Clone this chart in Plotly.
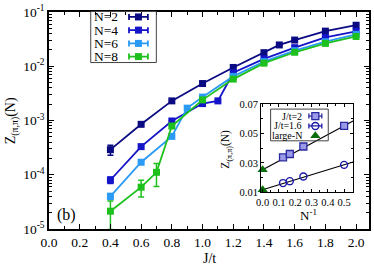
import numpy as np
import plotly.graph_objects as go

# ---------------- data ----------------
J_N2 = [0.4, 0.6, 0.8, 1.0, 1.2, 1.4, 1.5, 1.6, 1.8, 2.0]
Z_N2 = [2.9e-4, 8.5e-4, 2.3e-3, 4.8e-3, 9.5e-3, 0.0178, 0.0247, 0.0304, 0.0444, 0.057]
E_N2 = [6e-5, 0, 0, 0, 0, 0, 0, 0, 0, 0]

J_N4 = [0.4, 0.6, 0.8, 1.0, 1.1, 1.2, 1.4, 1.6, 1.8, 2.0]
Z_N4 = [8.0e-5, 3.3e-4, 9.8e-4, 2.05e-3, 2.3e-3, 7.6e-3, 0.0137, 0.022, 0.034, 0.044]
E_N4 = [1.1e-5, 0, 0, 0, 0, 0, 0, 0, 0, 0]

J_N6 = [0.4, 0.6, 0.8, 0.9, 1.0, 1.2, 1.4, 1.6, 1.8, 2.0]
Z_N6 = [4.0e-5, 1.7e-4, 5.1e-4, 1.69e-3, 2.7e-3, 6.5e-3, 0.0122, 0.0194, 0.0283, 0.0388]
E_N6 = [5e-6, 0, 0, 0, 0, 0, 0, 0, 0, 0]

J_N8 = [0.4, 0.6, 0.7, 0.8, 1.0, 1.2, 1.4, 1.6, 1.8, 2.0]
Z_N8 = [2.13e-5, 5.9e-5, 1.11e-4, 7.9e-4, 2.4e-3, 5.8e-3, 0.0114, 0.0181, 0.0264, 0.0354]
E_N8 = [1.15e-5, 2e-5, 5e-5, 0, 0, 0, 0, 0, 0, 0]

series_names = ["N=2", "N=4", "N=6", "N=8"]

x_tick_vals = [0.0, 0.2, 0.4, 0.6, 0.8, 1.0, 1.2, 1.4, 1.6, 1.8, 2.0]
x_tick_text = ["0.0", "0.2", "0.4", "0.6", "0.8", "1.0", "1.2", "1.4", "1.6", "1.8", "2.0"]
y_tick_exps = [-5, -4, -3, -2, -1]

# inset data
invN = [0.125, 0.1667, 0.25, 0.5]
Z_J2 = [0.0338, 0.0361, 0.0412, 0.0552]
Z_J16 = [0.0163, 0.0176, 0.0208, 0.0287]
largeN_x = [0.0, 0.0]
largeN_Z = [0.0253, 0.0118]
fit_J2 = (0.0253, 0.060)     # intercept, slope
fit_J16 = (0.0118, 0.034)
inset_x_ticks = [0.0, 0.1, 0.2, 0.3, 0.4, 0.5]
inset_x_text = ["0.0", "0.1", "0.2", "0.3", "0.4", "0.5"]
inset_y_ticks = [0.01, 0.03, 0.05, 0.07]
inset_y_text = ["0.01", "0.03", "0.05", "0.07"]
inset_names = ["J/t=2", "J/t=1.6", "large-N"]

# ---------------- styling ----------------
FONT = "Liberation Serif, Times New Roman, serif"
colors = ["#0a0a82", "#1414c8", "#2a9af5", "#1ec01e"]
W, H = 374, 271
ML, MR, MT, MB = 49, 3, 10, 42
PW, PH = W - ML - MR, H - MT - MB


def px_x(p):  # pixel -> paper x
    return (p - ML) / PW


def px_y(p):  # pixel -> paper y
    return (H - MB - p) / PH


fig = go.Figure()

for J, Z, E, c in zip([J_N2, J_N4, J_N6, J_N8], [Z_N2, Z_N4, Z_N6, Z_N8],
                      [E_N2, E_N4, E_N6, E_N8], colors):
    fig.add_trace(go.Scatter(
        x=J, y=Z, mode="lines+markers", xaxis="x", yaxis="y",
        line=dict(color=c, width=1.8),
        marker=dict(symbol="square", size=7, color=c),
        error_y=dict(type="data", array=E, visible=True, color=c, thickness=1.5, width=3),
        showlegend=False, hoverinfo="skip"))

# inset fits
xf = np.array([0.0, 0.555])
for (b, m) in [fit_J2, fit_J16]:
    fig.add_trace(go.Scatter(x=xf, y=b + m * xf, mode="lines", xaxis="x2", yaxis="y2",
                             line=dict(color="black", width=1.1), showlegend=False, hoverinfo="skip"))
fig.add_trace(go.Scatter(x=invN, y=Z_J2, mode="markers", xaxis="x2", yaxis="y2",
                         marker=dict(symbol="square", size=7, color="#9a9ae8",
                                     line=dict(color="#2a2aa0", width=1.3)),
                         showlegend=False, hoverinfo="skip"))
fig.add_trace(go.Scatter(x=invN, y=Z_J16, mode="markers", xaxis="x2", yaxis="y2",
                         marker=dict(symbol="circle-open", size=7, color="#1a1aa8",
                                     line=dict(width=1.4)),
                         showlegend=False, hoverinfo="skip"))
fig.add_trace(go.Scatter(x=largeN_x, y=largeN_Z, mode="markers", xaxis="x2", yaxis="y2",
                         marker=dict(symbol="triangle-up", size=9, color="#0a6e0a"),
                         showlegend=False, hoverinfo="skip", cliponaxis=False))

# ---------------- legend keys (overlay axes in plot fraction units) ----------------
leg_y_px = [15, 28.3, 41.7, 55]
for yp, c in zip(leg_y_px, colors):
    fig.add_trace(go.Scatter(x=[px_x(139)], y=[px_y(yp)], mode="markers", xaxis="x3", yaxis="y3",
                             marker=dict(symbol="square", size=7, color=c),
                             error_x=dict(type="constant", value=9.5 / PW, color=c, thickness=1.8, width=3),
                             showlegend=False, hoverinfo="skip"))
ins_y_px = [115, 125, 135]
ins_styles = [
    dict(symbol="square", size=7, color="#9a9ae8", line=dict(color="#2a2aa0", width=1.3)),
    dict(symbol="circle-open", size=7, color="#1a1aa8", line=dict(width=1.4)),
    dict(symbol="triangle-up", size=9, color="#0a6e0a"),
]
ins_err = ["#2a2aa0", "#1a1aa8", None]
for yp, st, ec in zip(ins_y_px, ins_styles, ins_err):
    kw = {}
    if ec:
        kw["error_x"] = dict(type="constant", value=6.5 / PW, color=ec, thickness=1.3, width=2.5)
    fig.add_trace(go.Scatter(x=[px_x(317)], y=[px_y(yp)], mode="markers", xaxis="x3", yaxis="y3",
                             marker=st, showlegend=False, hoverinfo="skip", **kw))


def ann(xp, yp, text, size, **kw):
    d = dict(x=px_x(xp), y=px_y(yp), xref="paper", yref="paper", text=text, showarrow=False,
             xanchor="center", yanchor="middle", borderpad=0,
             font=dict(family=FONT, size=size, color="black"))
    d.update(kw)
    return d


annotations = []
for yp, name in zip(leg_y_px, series_names):
    annotations.append(ann(93, yp, name, 13.5, xanchor="left"))
for yp, name in zip(ins_y_px, inset_names):
    annotations.append(ann(305, yp, name, 10, xanchor="right"))
annotations += [
    ann(67, 215, "(b)", 16),
    ann(210, 259, "J/t", 14),
    ann(12, 120, "Z<sub>(π,π)</sub>(N)", 14, textangle=-90),
    ann(310, 215, "N<sup>-1</sup>", 13),
    ann(227, 148, "Z<sub>(π,π)</sub>(N)", 11.5, textangle=-90),
]

shapes = [
    dict(type="rect", xref="paper", yref="paper", x0=px_x(91), x1=px_x(157), y0=px_y(61), y1=px_y(9.5),
         line=dict(color="#444444", width=1)),
    dict(type="rect", xref="paper", yref="paper", x0=px_x(272), x1=px_x(330), y0=px_y(140), y1=px_y(108),
         line=dict(color="#444444", width=1)),
]

axis_common = dict(showgrid=False, zeroline=False, showline=True, linecolor="black",
                   mirror="ticks", ticks="inside", tickcolor="black")

minor_log = [k * 10.0 ** e for e in range(-5, -1) for k in range(2, 10)]

fig.update_layout(
    width=W, height=H, margin=dict(l=ML, r=MR, t=MT, b=MB),
    paper_bgcolor="white", plot_bgcolor="rgba(0,0,0,0)", showlegend=False,
    xaxis=dict(**axis_common, range=[0, 2.084], tickvals=x_tick_vals, ticktext=x_tick_text,
               ticklen=5, linewidth=1.5, tickwidth=1.2, domain=[0, 1], anchor="y",
               tickfont=dict(family=FONT, color="black", size=13.5),
               minor=dict(ticks="inside", dtick=0.1, tick0=0, ticklen=3, tickcolor="black")),
    yaxis=dict(**axis_common, type="log", range=[-5, -1],
               tickvals=[10.0 ** e for e in y_tick_exps],
               ticktext=["10<sup>%d</sup>" % e for e in y_tick_exps],
               tickfont=dict(family=FONT, color="black", size=13.5),
               ticklen=5, linewidth=1.5, tickwidth=1.2, domain=[0, 1], anchor="x",
               minor=dict(ticks="inside", tickvals=minor_log, ticklen=3, tickcolor="black")),
    xaxis2=dict(**axis_common, range=[-0.009, 0.555], tickvals=inset_x_ticks, ticktext=inset_x_text,
                tickfont=dict(family=FONT, color="black", size=10.5),
                ticklen=3, linewidth=1.3, domain=[px_x(262.5), px_x(355)], anchor="y2",
                minor=dict(ticks="inside", dtick=0.05, tick0=0, ticklen=2, tickcolor="black")),
    yaxis2=dict(**axis_common, range=[0.01, 0.07], tickvals=inset_y_ticks, ticktext=inset_y_text,
                tickfont=dict(family=FONT, color="black", size=10.5),
                ticklen=3, linewidth=1.3, domain=[px_y(192), px_y(103)], anchor="x2",
                minor=dict(ticks="inside", dtick=0.01, tick0=0, ticklen=2, tickcolor="black")),
    xaxis3=dict(range=[0, 1], domain=[0, 1], anchor="y3", visible=False, fixedrange=True),
    yaxis3=dict(range=[0, 1], domain=[0, 1], anchor="x3", visible=False, fixedrange=True),
    annotations=annotations, shapes=shapes,
)

fig.write_html("out.html", config={"displayModeBar": False},
               post_script="document.body.style.margin='0px';")
